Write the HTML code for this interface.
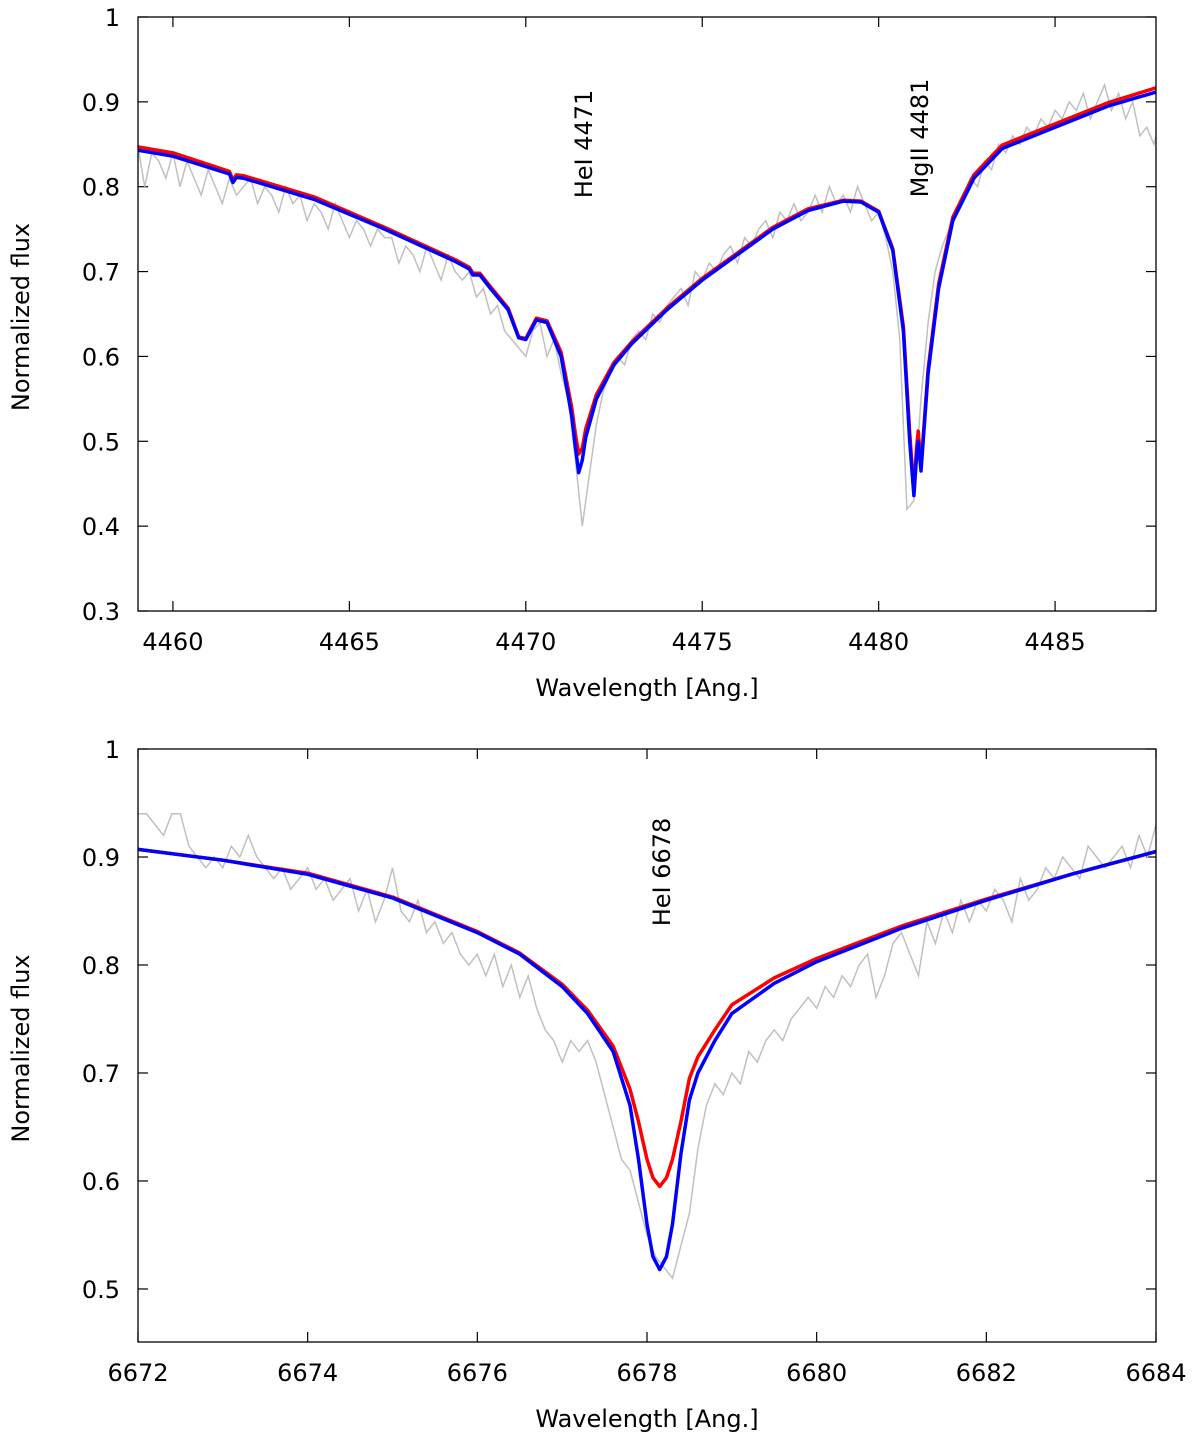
<!DOCTYPE html>
<html><head><meta charset="utf-8"><style>
body{margin:0;background:#fff;}
svg text{font-family:"DejaVu Sans","Liberation Sans",sans-serif;fill:#000;}
</style></head><body>
<svg id="c" width="1200" height="1443" viewBox="0 0 1200 1443" xmlns="http://www.w3.org/2000/svg"></svg>
<script>
// ---- top panel data ----
const topXTicks = [4460, 4465, 4470, 4475, 4480, 4485];
const topYTicks = [0.3, 0.4, 0.5, 0.6, 0.7, 0.8, 0.9, 1];
const topBlueWl = [4459.0,4460,4461.6,4461.7,4461.8,4462,4464,4466,4468,4468.4,4468.5,4468.7,4469,4469.5,4469.8,4470.0,4470.3,4470.6,4471.0,4471.3,4471.4,4471.5,4471.6,4471.7,4472,4472.5,4473,4474,4475,4476,4477,4478,4479,4479.5,4480,4480.4,4480.7,4480.88,4481.0,4481.07,4481.12,4481.2,4481.4,4481.7,4482.1,4482.7,4483.5,4485,4486.5,4487.9];
const topBlueFl = [0.843,0.836,0.815,0.805,0.811,0.810,0.785,0.750,0.712,0.703,0.696,0.696,0.680,0.655,0.622,0.620,0.643,0.640,0.600,0.530,0.495,0.463,0.478,0.505,0.550,0.590,0.615,0.655,0.690,0.720,0.750,0.772,0.783,0.782,0.770,0.725,0.630,0.500,0.436,0.480,0.500,0.465,0.580,0.680,0.760,0.810,0.845,0.870,0.895,0.912];
const topRedFl  = [0.847,0.840,0.818,0.808,0.814,0.813,0.788,0.752,0.714,0.705,0.698,0.698,0.682,0.657,0.623,0.621,0.645,0.642,0.605,0.540,0.510,0.485,0.492,0.515,0.555,0.593,0.617,0.657,0.692,0.722,0.752,0.774,0.784,0.783,0.771,0.727,0.635,0.510,0.440,0.490,0.512,0.470,0.585,0.685,0.764,0.814,0.849,0.874,0.899,0.917];
const topObsStart = 4458.6, topObsStep = 0.2;
const topObsFl = [0.86,0.82,0.85,0.80,0.84,0.83,0.81,0.84,
0.80,0.83,0.81,0.79,0.82,0.80,0.78,0.81,0.79,0.80,
0.81,0.78,0.80,0.79,0.77,0.80,0.78,0.79,0.76,0.78,
0.77,0.75,0.78,0.76,0.74,0.76,0.75,0.73,0.75,0.74,
0.74,0.71,0.73,0.72,0.70,0.73,0.71,0.69,0.72,0.70,
0.69,0.70,0.67,0.68,0.65,0.66,0.63,0.62,0.61,0.60,
0.63,0.64,0.60,0.62,0.58,0.55,0.48,0.40,0.46,0.52,
0.56,0.58,0.60,0.59,0.62,0.63,0.62,0.65,0.64,0.66,
0.67,0.68,0.66,0.70,0.69,0.71,0.70,0.72,0.73,0.71,
0.74,0.73,0.75,0.76,0.74,0.77,0.76,0.78,0.76,0.77,
0.79,0.77,0.80,0.78,0.79,0.77,0.80,0.78,0.76,0.77,
0.74,0.70,0.62,0.42,0.43,0.55,0.64,0.70,0.73,0.75,
0.77,0.79,0.81,0.80,0.83,0.82,0.85,0.84,0.86,0.85,
0.87,0.86,0.88,0.87,0.89,0.88,0.90,0.89,0.91,0.88,
0.90,0.92,0.89,0.91,0.88,0.90,0.86,0.87,0.85,0.88];
// ---- bottom panel data ----
const botXTicks = [6672, 6674, 6676, 6678, 6680, 6682, 6684];
const botYTicks = [0.5, 0.6, 0.7, 0.8, 0.9, 1];
const botWl = [6672,6673,6674,6675,6676,6676.5,6677,6677.3,6677.6,6677.8,6677.9,6678.0,6678.07,6678.15,6678.23,6678.3,6678.4,6678.5,6678.6,6678.8,6679,6679.5,6680,6681,6682,6683,6684];
const botBlueFl = [0.907,0.897,0.884,0.862,0.830,0.810,0.780,0.755,0.720,0.670,0.620,0.560,0.530,0.518,0.530,0.560,0.625,0.675,0.700,0.730,0.755,0.783,0.803,0.834,0.860,0.884,0.905];
const botRedFl  = [0.907,0.897,0.885,0.863,0.831,0.811,0.782,0.758,0.725,0.685,0.655,0.620,0.603,0.595,0.603,0.620,0.655,0.695,0.715,0.740,0.763,0.788,0.806,0.836,0.861,0.884,0.905];
const botObsStart = 6672.0, botObsStep = 0.1;
const botObsFl = [0.94,0.94,0.93,0.92,0.94,0.94,0.91,0.90,0.89,0.90,
0.89,0.91,0.90,0.92,0.90,0.89,0.88,0.89,0.87,0.88,
0.89,0.87,0.88,0.86,0.87,0.88,0.85,0.87,0.84,0.86,
0.89,0.85,0.84,0.86,0.83,0.84,0.82,0.83,0.81,0.80,
0.81,0.79,0.81,0.78,0.80,0.77,0.79,0.76,0.74,0.73,
0.71,0.73,0.72,0.73,0.71,0.68,0.65,0.62,0.61,0.58,
0.55,0.53,0.52,0.51,0.54,0.57,0.63,0.67,0.69,0.68,
0.70,0.69,0.72,0.71,0.73,0.74,0.73,0.75,0.76,0.77,
0.76,0.78,0.77,0.79,0.78,0.80,0.81,0.77,0.79,0.82,
0.83,0.81,0.79,0.84,0.82,0.85,0.83,0.86,0.84,0.86,
0.85,0.87,0.86,0.84,0.88,0.86,0.87,0.89,0.88,0.90,
0.89,0.88,0.91,0.90,0.89,0.90,0.91,0.89,0.92,0.90,
0.93];

const NS = "http://www.w3.org/2000/svg";
const svg = document.getElementById('c');
function mk(tag, attrs, parent){
  const e = document.createElementNS(NS, tag);
  for (const k in attrs) e.setAttribute(k, attrs[k]);
  (parent||svg).appendChild(e);
  return e;
}
function panel(cfg){
  const g = mk('g', {});
  
  
  const L=138, R=1156, T=cfg.top, B=cfg.bottom;
  const sx = v => L + (v - cfg.xmin) / (cfg.xmax - cfg.xmin) * (R - L);
  const sy = v => B - (v - cfg.ymin) / (cfg.ymax - cfg.ymin) * (B - T);
  const clip = mk('clipPath', {id: cfg.name + '-clip'}, g);
  mk('rect', {x: L, y: T, width: R-L, height: B-T}, clip);
  cfg.xTicks.forEach(t => {
    const x = sx(t);
    const tl = mk('line', {x1:x, x2:x, y1:B, y2:B-10, stroke:'#000', 'stroke-width':1.2}, g);
    
    
    mk('line', {x1:x, x2:x, y1:T, y2:T+10, stroke:'#000', 'stroke-width':1.2}, g);
    const tx = mk('text', {x:x, y:B+39, 'font-size':24, 'text-anchor':'middle'}, g);
    tx.textContent = t;
    
    
  });
  cfg.yTicks.forEach(t => {
    const y = sy(t);
    mk('line', {x1:L, x2:L+10, y1:y, y2:y, stroke:'#000', 'stroke-width':1.2}, g);
    mk('line', {x1:R, x2:R-10, y1:y, y2:y, stroke:'#000', 'stroke-width':1.2}, g);
    const tx = mk('text', {x:L-18, y:y+9, 'font-size':24, 'text-anchor':'end'}, g);
    tx.textContent = t;
    
    
  });
  const pg = mk('g', {'clip-path': 'url(#' + cfg.name + '-clip)'}, g);
  let d = '';
  cfg.obsFl.forEach((v, i) => { d += (i ? 'L' : 'M') + sx(cfg.obsStart + i * cfg.obsStep).toFixed(1) + ',' + sy(v).toFixed(1); });
  const po = mk('path', {d:d, fill:'none', stroke:'#c0c0c0', 'stroke-width':1.5}, pg);
  
  
  const line = (fl, col, nm) => {
    let dd = '';
    fl.forEach((v, i) => { dd += (i ? 'L' : 'M') + sx(cfg.wl[i]).toFixed(1) + ',' + sy(v).toFixed(1); });
    const p = mk('path', {d:dd, fill:'none', stroke:col, 'stroke-width':3.5, 'stroke-linejoin':'round'}, pg);
    
    
  };
  line(cfg.red, '#ff0000', 'model-red');
  line(cfg.blue, '#0000ff', 'model-blue');
  const fr = mk('rect', {x:L, y:T, width:R-L, height:B-T, fill:'none', stroke:'#000', 'stroke-width':1.3}, g);
  
  
  const xl = mk('text', {x:647, y:B+85, 'font-size':24, 'text-anchor':'middle'}, g);
  xl.textContent = 'Wavelength [Ang.]';
  
  
  const yl = mk('text', {x:0, y:0, 'font-size':24, 'text-anchor':'middle', transform:'translate(29,' + ((T+B)/2+3) + ') rotate(-90)'}, g);
  yl.textContent = 'Normalized flux';
  
  
  cfg.labels.forEach(lb => {
    const t = mk('text', {x:0, y:0, 'font-size':24, 'text-anchor':'middle', transform:'translate(' + (lb.x+9) + ',' + lb.y + ') rotate(-90)'}, g);
    t.textContent = lb.text;
    
    
  });
}
panel({name:'top-panel', top:17, bottom:611, xmin:4459.01, xmax:4487.86, ymin:0.3, ymax:1,
  xTicks:topXTicks, yTicks:topYTicks, wl:topBlueWl, blue:topBlueFl, red:topRedFl,
  obsStart:topObsStart, obsStep:topObsStep, obsFl:topObsFl,
  labels:[{text:'HeI 4471', x:583, y:144},{text:'MgII 4481', x:919, y:138}]});
panel({name:'bottom-panel', top:749, bottom:1342, xmin:6672, xmax:6684, ymin:0.4509, ymax:1,
  xTicks:botXTicks, yTicks:botYTicks, wl:botWl, blue:botBlueFl, red:botRedFl,
  obsStart:botObsStart, obsStep:botObsStep, obsFl:botObsFl,
  labels:[{text:'HeI 6678', x:661, y:872}]});
</script>
</body></html>
